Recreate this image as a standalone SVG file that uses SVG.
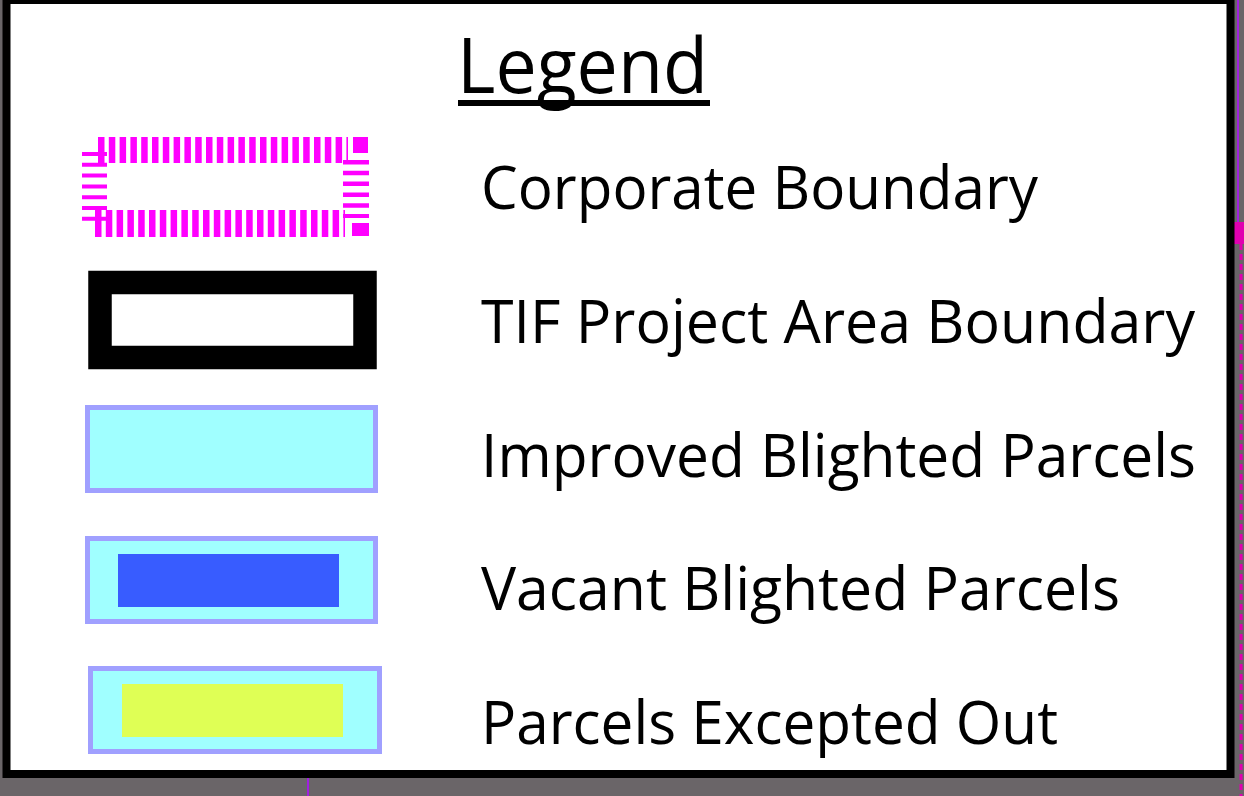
<svg xmlns="http://www.w3.org/2000/svg" width="1244" height="796" viewBox="0 0 1244 796">
<style>
.lbl{font-family:"Open Sans","Liberation Sans",sans-serif;font-size:61px;fill:#000}
.parcel{fill:#a0ffff;stroke:#a0a0ff;stroke-width:5}
.cb{stroke:#ff00ff;fill:none}
</style>
<rect x="0" y="0" width="1244" height="796" fill="#6a6568"/>
<line x1="1238" y1="0" x2="1238" y2="222" stroke="#a020e0" stroke-width="2"/>
<rect x="1234" y="222" width="10" height="22" fill="#e000b0"/>
<line x1="1241" y1="244" x2="1241" y2="796" stroke="#e000b0" stroke-width="3" stroke-dasharray="6 4"/>
<line x1="308" y1="778" x2="308" y2="796" stroke="#a020e0" stroke-width="2"/>
<rect x="6.5" y="0" width="1224" height="774" fill="#fff" stroke="#000" stroke-width="8"/>
<g id="title">
<text x="457" y="93" font-family="Open Sans,Liberation Sans,sans-serif" font-size="77" textLength="251" lengthAdjust="spacingAndGlyphs">Legend</text>
<rect x="458" y="100" width="252" height="6" fill="#000"/>
</g>
<g id="corporate-boundary">
<line class="cb" x1="98" y1="150" x2="348" y2="150" stroke-width="26" stroke-dasharray="6.5 4.3"/>
<rect x="353" y="137" width="15" height="16" fill="#ff00ff"/>
<line class="cb" x1="95" y1="223.5" x2="345" y2="223.5" stroke-width="27" stroke-dasharray="6.5 4.3"/>
<line class="cb" x1="94.5" y1="152" x2="94.5" y2="222" stroke-width="25" stroke-dasharray="4 6.8"/>
<line class="cb" x1="356" y1="160" x2="356" y2="218" stroke-width="26" stroke-dasharray="4.5 6.3"/>
<rect x="352" y="223" width="17" height="13" fill="#ff00ff"/>
<text class="lbl" x="481" y="209" textLength="557" lengthAdjust="spacingAndGlyphs">Corporate Boundary</text>
</g>
<g id="tif-boundary">
<rect x="100" y="282.5" width="265" height="75" fill="#fff" stroke="#000" stroke-width="23.5"/>
<text class="lbl" x="481" y="343" textLength="714" lengthAdjust="spacingAndGlyphs">TIF Project Area Boundary</text>
</g>
<g id="improved">
<rect class="parcel" x="87.5" y="407.5" width="288" height="83"/>
<text class="lbl" x="481" y="477" textLength="715" lengthAdjust="spacingAndGlyphs">Improved Blighted Parcels</text>
</g>
<g id="vacant">
<rect class="parcel" x="87.5" y="538.5" width="288" height="83"/>
<rect x="118" y="554" width="221" height="53" fill="#385cff"/>
<text class="lbl" x="481" y="610" textLength="639" lengthAdjust="spacingAndGlyphs">Vacant Blighted Parcels</text>
</g>
<g id="excepted">
<rect class="parcel" x="90.5" y="668.5" width="289" height="83"/>
<rect x="122" y="684" width="221" height="53" fill="#dfff55"/>
<text class="lbl" x="481" y="744" textLength="577" lengthAdjust="spacingAndGlyphs">Parcels Excepted Out</text>
</g>
<g id="connectors"></g>
</svg>
